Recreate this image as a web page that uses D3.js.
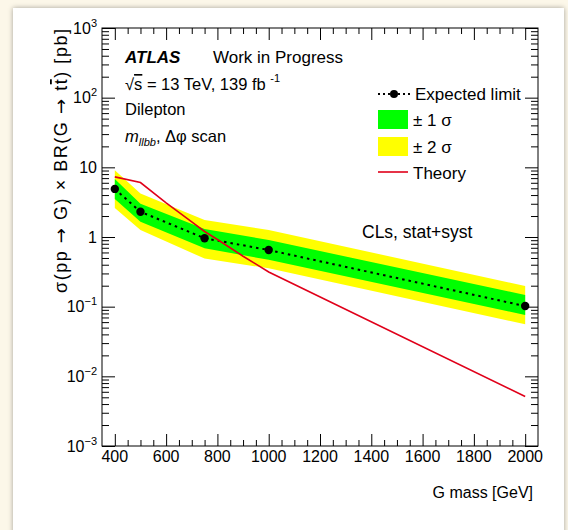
<!DOCTYPE html>
<html lang="en">
<head>
<meta charset="UTF-8">
<title>Graviton limit</title>
<script src="https://cdn.jsdelivr.net/npm/d3@7"></script>
<style>
    body { margin: 0; background: #fcf7e9; font-family: "Liberation Sans", Arial, sans-serif; }
    #card { position: absolute; left: 13px; top: 8px; width: 551px; height: 540px; background: #fff;
            box-shadow: 0 0 5px rgba(0,0,0,0.35); }
    svg { position: absolute; left: 0; top: 0; }
</style>
</head>
<body>
<div id="card"></div>
<script>
    // data
    var masses = [400, 500, 750, 1000, 2000];
    var expected = [4.9, 2.3, 0.96, 0.65, 0.102];
    var plus1 = [6.8, 3.0, 1.3, 0.905, 0.147];
    var minus1 = [3.5, 1.66, 0.69, 0.47, 0.076];
    var plus2 = [9.1, 4.2, 1.75, 1.26, 0.198];
    var minus2 = [2.6, 1.26, 0.49, 0.355, 0.056];

    var theoryMass = [400, 500, 600, 700, 750, 800, 900, 1000, 2000];
    var theoryXsec = [7.3, 6.05, 3.1, 1.65, 1.2, 0.92, 0.53, 0.315, 0.00515];

    var xMajor = [400, 600, 800, 1000, 1200, 1400, 1600, 1800, 2000];
    var yMajor = [1e-3, 1e-2, 1e-1, 1, 10, 100, 1000];
    var yLabels = [["10", "\u22123"], ["10", "\u22122"], ["10", "\u22121"], ["1", ""], ["10", ""], ["10", "2"], ["10", "3"]];

    var w = 568, h = 530;
    // frame edges (note: "top" is reserved by window, so use pad names)
    var padL = 102, padR = 538, padT = 28, padB = 446;

    var x = d3.scaleLinear().domain([350, 2050]).range([padL, padR]);
    var y = d3.scaleLog().domain([1e-3, 1e3]).range([padB, padT]);

    //minor tick positions
    var xMinor = d3.range(400, 2050, 50).filter(function(d) { return d % 200 !== 0; });
    var yMinor = [];
    yMajor.slice(0, -1).forEach(function(d) {
        for (var k = 2; k <= 9; k++) yMinor.push(d * k);
    });

    var svg = d3.select('body').append('svg')
        .attr('width', w).attr('height', h)
        .style('font-family', '"Liberation Sans", Arial, sans-serif');

    var pts = masses.map(function(m, i) { return i; });

    // bands
    var band = function(hi, lo) {
        return d3.area()
            .x(function(i) { return x(masses[i]); })
            .y0(function(i) { return y(lo[i]); })
            .y1(function(i) { return y(hi[i]); });
    };
    svg.append('path').attr('d', band(plus2, minus2)(pts)).attr('fill', '#ffff00');
    svg.append('path').attr('d', band(plus1, minus1)(pts)).attr('fill', '#00ff00');

    // expected limit
    svg.append('path')
        .attr('d', d3.line()
            .x(function(i) { return x(masses[i]); })
            .y(function(i) { return y(expected[i]); })(pts))
        .attr('fill', 'none').attr('stroke', '#000')
        .attr('stroke-width', 2).attr('stroke-dasharray', '2.5,4');
    svg.append('g').selectAll('circle').data(pts).enter().append('circle')
        .attr('cx', function(i) { return x(masses[i]); })
        .attr('cy', function(i) { return y(expected[i]); })
        .attr('r', 4.2).attr('fill', '#000');

    // theory
    svg.append('path')
        .attr('d', d3.line()
            .x(function(d, i) { return x(theoryMass[i]); })
            .y(function(d) { return y(d); })(theoryXsec))
        .attr('fill', 'none').attr('stroke', '#e0001a').attr('stroke-width', 1.6);

    // frame
    svg.append('rect').attr('x', padL).attr('y', padT)
        .attr('width', padR - padL).attr('height', padB - padT)
        .attr('fill', 'none').attr('stroke', '#000').attr('stroke-width', 1);

    function ticks(axis, vals, size) {
        return axis.tickValues(vals).tickSize(size).tickFormat('');
    }
    function clean(g) {
        g.select('.domain').remove();
        g.selectAll('line').attr('stroke', '#000');
    }

    // x axis ticks, bottom and top
    svg.append('g').attr('transform', 'translate(0,' + padB + ')')
        .call(ticks(d3.axisBottom(x), xMajor, -12)).call(clean);
    svg.append('g').attr('transform', 'translate(0,' + padB + ')')
        .call(ticks(d3.axisBottom(x), xMinor, -6)).call(clean);
    svg.append('g').attr('transform', 'translate(0,' + padT + ')')
        .call(ticks(d3.axisTop(x), xMajor, -12)).call(clean);
    svg.append('g').attr('transform', 'translate(0,' + padT + ')')
        .call(ticks(d3.axisTop(x), xMinor, -6)).call(clean);

    // y axis ticks, left and right
    svg.append('g').attr('transform', 'translate(' + padL + ',0)')
        .call(ticks(d3.axisLeft(y), yMajor, -13)).call(clean);
    svg.append('g').attr('transform', 'translate(' + padL + ',0)')
        .call(ticks(d3.axisLeft(y), yMinor, -7)).call(clean);
    svg.append('g').attr('transform', 'translate(' + padR + ',0)')
        .call(ticks(d3.axisRight(y), yMajor, -13)).call(clean);
    svg.append('g').attr('transform', 'translate(' + padR + ',0)')
        .call(ticks(d3.axisRight(y), yMinor, -7)).call(clean);

    // x tick labels
    svg.append('g').selectAll('text').data(xMajor).enter().append('text')
        .attr('x', function(d) { return x(d); })
        .attr('y', 462)
        .attr('text-anchor', 'middle')
        .style('font-size', '16px')
        .text(function(d) { return d; });

    // y tick labels
    var yl = svg.append('g').selectAll('text').data(yMajor).enter().append('text')
        .attr('x', 97)
        .attr('y', function(d) { return y(d) + 5.5; })
        .attr('text-anchor', 'end')
        .style('font-size', '16px');
    yl.append('tspan').text(function(d, i) { return yLabels[i][0]; });
    yl.append('tspan').attr('dy', -7).style('font-size', '11px')
        .text(function(d, i) { return yLabels[i][1]; });

    // axis titles
    svg.append('text').attr('x', 533).attr('y', 498)
        .attr('text-anchor', 'end').style('font-size', '16px')
        .text('G mass [GeV]');

    // ROOT title runs longer than the font gives, stretch it a little
    var yt = svg.append('text')
        .attr('transform', 'translate(67,29) rotate(-90)')
        .attr('text-anchor', 'end').style('font-size', '18px')
        .attr('textLength', 264).attr('lengthAdjust', 'spacing');
    yt.append('tspan').text('\u03c3(pp ');
    yt.append('tspan').style('font-family', '"DejaVu Sans"').text('\u2192');
    yt.append('tspan').text(' G) \u00d7 BR(G ');
    yt.append('tspan').style('font-family', '"DejaVu Sans"').text('\u2192');
    yt.append('tspan').text(' t');
    yt.append('tspan').style('text-decoration', 'overline').text('t');
    yt.append('tspan').text(') [pb]');

    // labels in the plot
    var t1 = svg.append('text').attr('x', 125).attr('y', 63).style('font-size', '17px');
    t1.append('tspan').style('font-weight', 'bold').style('font-style', 'italic').text('ATLAS');
    svg.append('text').attr('x', 213).attr('y', 63).style('font-size', '17px').text('Work in Progress');

    var t2 = svg.append('text').attr('x', 125).attr('y', 90).style('font-size', '16.5px');
    t2.append('tspan').text('\u221a');
    t2.append('tspan').style('text-decoration', 'overline').text('s');
    t2.append('tspan').text(' = 13 TeV, 139 fb ');
    t2.append('tspan').attr('dy', -8).style('font-size', '11px').text('-1');

    svg.append('text').attr('x', 125).attr('y', 115).style('font-size', '16.5px').text('Dilepton');

    var t4 = svg.append('text').attr('x', 125).attr('y', 142).style('font-size', '16.5px');
    t4.append('tspan').style('font-style', 'italic').text('m');
    t4.append('tspan').attr('dy', 4).style('font-style', 'italic').style('font-size', '11px').text('llbb');
    t4.append('tspan').attr('dy', -4).text(', \u0394\u03c6 scan');

    svg.append('text').attr('x', 362).attr('y', 238).style('font-size', '17.5px').text('CLs, stat+syst');

    // legend
    var lg = svg.append('g');
    lg.append('line').attr('x1', 378).attr('x2', 410).attr('y1', 94).attr('y2', 94)
        .attr('stroke', '#000').attr('stroke-width', 2).attr('stroke-dasharray', '2,3');
    lg.append('circle').attr('cx', 394).attr('cy', 94).attr('r', 4).attr('fill', '#000');
    lg.append('text').attr('x', 415).attr('y', 100).style('font-size', '17px').text('Expected limit');
    lg.append('rect').attr('x', 378).attr('y', 110).attr('width', 30).attr('height', 19).attr('fill', '#00ff00');
    lg.append('text').attr('x', 413).attr('y', 126).style('font-size', '17px').text('\u00b1 1 \u03c3');
    lg.append('rect').attr('x', 378).attr('y', 137).attr('width', 30).attr('height', 19).attr('fill', '#ffff00');
    lg.append('text').attr('x', 413).attr('y', 153).style('font-size', '17px').text('\u00b1 2 \u03c3');
    lg.append('line').attr('x1', 378).attr('x2', 408).attr('y1', 172).attr('y2', 172)
        .attr('stroke', '#e0001a').attr('stroke-width', 1.6);
    lg.append('text').attr('x', 413).attr('y', 179).style('font-size', '17px').text('Theory');
</script>
</body>
</html>
